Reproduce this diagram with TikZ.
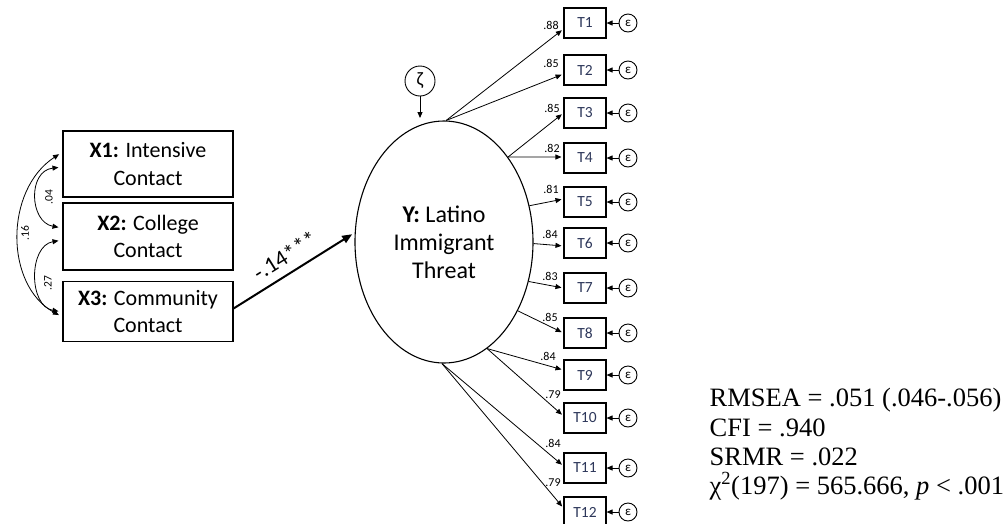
\documentclass[tikz,border=0pt]{standalone}
\usepackage{fontspec}
\setmainfont{Carlito}
\newfontfamily\fitfont{Liberation Serif}
\usetikzlibrary{arrows.meta,shapes.geometric}
\definecolor{itemblue}{RGB}{45,55,90}

\tikzset{
  tri/.style={-{Triangle[length=6pt,width=5pt]}},
  bitri/.style={{Triangle[length=6pt,width=5pt]}-{Triangle[length=6pt,width=5pt]}},
  xbox/.style={draw, line width=1.1pt, minimum width=170pt, inner sep=0pt,
    align=center, font=\fontsize{22}{27.5}\selectfont},
  tbox/.style={draw, line width=1.1pt, minimum width=42pt, minimum height=30pt,
    inner sep=0pt, font=\fontsize{15.5}{16}\selectfont, text=itemblue},
  errc/.style={draw, circle, line width=0.9pt, minimum size=18pt, inner sep=0pt,
    font=\fontsize{13}{13}\selectfont},
  coef/.style={font=\fontsize{12}{12}\selectfont, inner sep=0pt},
  covline/.style={line width=0.8pt, bitri, shorten >=4pt, shorten <=4pt},
  covlab/.style={font=\fontsize{11.5}{11.5}\selectfont, inner sep=0pt, rotate=90},
  loadline/.style={line width=0.8pt, tri, shorten >=2pt},
  fitline/.style={anchor=base west, inner sep=0pt, font=\fitfont\fontsize{26.5}{30}\selectfont},
}

\begin{document}
\begin{tikzpicture}[x=1pt,y=-1pt]
\useasboundingbox (0,0) rectangle (1005,523);

% exogenous contact measures
\node[xbox, minimum height=66pt] (x1) at (148,164) {\textbf{X1:} Intensive\\Contact};
\node[xbox, minimum height=67pt] (x2) at (148,236.5) {\textbf{X2:} College\\Contact};
\node[xbox, minimum height=60pt] (x3) at (148,311.5) {\textbf{X3:} Community\\Contact};

% covariances between the contact measures
\draw[covline] ([yshift=12pt]x1.west) .. controls +(-58,38) and +(-58,-32) .. ([yshift=-5.5pt]x3.west);
\draw[covline] ([yshift=-3pt]x1.west) .. controls +(-35,4) and +(-33,-6) .. ([yshift=8.5pt]x2.west);
\draw[covline] ([yshift=-3.5pt]x2.west) .. controls +(-34,6) and +(-34,-6) .. ([yshift=-0.5pt]x3.west);
\node[covlab] (c16) at (25,233) {.16};
\node[covlab] (c04) at (49,197) {.04};
\node[covlab] (c27) at (48,283) {.27};

% latent threat factor and its disturbance
\node[draw, ellipse, line width=1.1pt, minimum width=178pt, minimum height=242pt,
  inner sep=0pt, align=center, font=\fontsize{24}{28}\selectfont] (lat) at (444,242)
  {\textbf{Y:} Latino\\Immigrant\\Threat};
\node[draw, circle, line width=0.9pt, minimum size=30pt, inner sep=0pt,
  font=\fontsize{19}{19}\selectfont] (zeta) at (420,81) {ζ};
\coordinate (zetaend) at (420,118);
\draw[line width=0.9pt, tri] (zeta) -- (zetaend);

% structural path
\draw[line width=2pt, -{Triangle[length=10pt,width=8pt]}, shorten >=3pt]
  ([yshift=3pt]x3.east) -- (lat.174)
  node[sloped, above=5pt, pos=0.5, font=\fontsize{23}{23}\selectfont] (beta) {-.14***};

% indicators T1--T12 with loadings and residuals
\foreach \i/\yy/\ang/\dy/\lab/\lx/\ly in {
  1/23/89/-6/.88/551/25,
  2/70/89/-4/.85/551/63,
  3/113/53.5/0/.85/552/108,
  4/158/53.5/1/.82/552/148,
  5/202/23.3/3/.81/551/189,
  6/243/359.3/-3/.84/550/234,
  7/288/335.3/0/.83/550/276,
  8/333/317.4/0/.85/550/317,
  9/375/292.1/5/.84/548/356,
  10/418/292.1/2/.79/553/395,
  11/468/269.5/2/.84/553/443,
  12/512/269.5/4/.79/553/483} {
  \node[tbox] (t\i) at (585,\yy) {T\i};
  \node[errc] (e\i) at (628,\yy) {ε};
  \draw[line width=0.9pt, tri] (e\i) -- (t\i);
  \draw[loadline] (lat.\ang) -- ([yshift=\dy pt]t\i.west);
  \node[coef] (l\i) at (\lx,\ly) {\lab};
}

% fit statistics
\node[fitline] (f1) at (709.5,406) {RMSEA = .051 (.046-.056)};
\node[fitline] (f2) at (709.5,436) {CFI = .940};
\node[fitline] (f3) at (709.5,465) {SRMR = .022};
\node[fitline] (f4) at (709.5,494) {χ\textsuperscript{2}(197) = 565.666, \textit{p} < .001};
\end{tikzpicture}
\end{document}
